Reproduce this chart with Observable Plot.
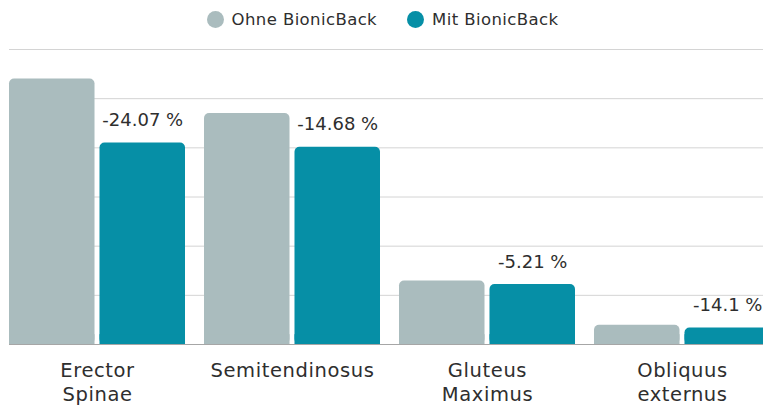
<!DOCTYPE html>
<html>
<head>
<meta charset="utf-8">
<script src="https://cdn.jsdelivr.net/npm/d3@7"></script>
<script src="https://cdn.jsdelivr.net/npm/@observablehq/plot@0.6"></script>
<style>
  html, body { margin: 0; padding: 0; background: #fff; overflow: hidden; width: 763px; height: 411px; }
  body { font-family: "DejaVu Sans", "Noto Sans", sans-serif; color: #2e2e2e; }
  #legend { height: 38px; display: flex; justify-content: center; align-items: center; gap: 30px; font-size: 16.5px; letter-spacing: 0.4px; padding-left: 2px; box-sizing: border-box; }
  .item { display: flex; align-items: center; gap: 8px; }
  .dot { width: 17px; height: 17px; border-radius: 50%; display: inline-block; }
  #chart g[aria-label="fx-axis tick label"] text { letter-spacing: 0.6px; }
</style>
</head>
<body>
<div id="legend"></div>
<div id="chart"></div>
<script>
const categories = ["Erector Spinae", "Semitendinosus", "Gluteus Maximus", "Obliquus externus"];
const categoryLabels = ["Erector\nSpinae", "Semitendinosus", "Gluteus\nMaximus", "Obliquus\nexternus"];
const series = ["Ohne BionicBack", "Mit BionicBack"];
const ohneValues = [5.40, 4.70, 1.29, 0.39];
const mitValues = [4.10, 4.01, 1.22, 0.335];
const changeLabels = ["-24.07 %", "-14.68 %", "-5.21 %", "-14.1 %"];
const yTicks = [0, 1, 2, 3, 4, 5, 6];
const colors = ["#aabcbe", "#068fa6"];

const data = categories.flatMap((c, i) => [
  {category: c, series: series[0], value: ohneValues[i]},
  {category: c, series: series[1], value: mitValues[i]}
]);
const labels = categories.map((c, i) => ({category: c, series: series[1], value: mitValues[i], label: changeLabels[i]}));
const labelMap = new Map(categories.map((c, i) => [c, categoryLabels[i]]));

const legend = document.getElementById("legend");
series.forEach((s, i) => {
  const item = document.createElement("div");
  item.className = "item";
  const dot = document.createElement("span");
  dot.className = "dot";
  dot.style.background = colors[i];
  const t = document.createElement("span");
  t.textContent = s;
  item.append(dot, t);
  legend.append(item);
});

const font = "'DejaVu Sans', 'Noto Sans', sans-serif";
const chart = Plot.plot({
  width: 763,
  height: 373,
  marginTop: 11,
  marginBottom: 67,
  marginLeft: 9,
  marginRight: -7,
  style: {fontFamily: font, overflow: "hidden", background: "white", color: "#2e2e2e"},
  fx: {domain: categories, paddingInner: 0.0974, paddingOuter: 0, round: false},
  x: {domain: series, paddingInner: 0.055, paddingOuter: 0, round: false, axis: null},
  y: {domain: [0, 6], axis: null},
  color: {domain: series, range: colors},
  marks: [
    Plot.ruleY(yTicks, {stroke: "#d4d4d4", strokeWidth: 1, insetRight: -19}),
    // rounded bars, with a square base overlay so only the top corners stay rounded
    Plot.barY(data, {fx: "category", x: "series", y: "value", fill: "series", rx: 5, ry: 5}),
    Plot.barY(data, {fx: "category", x: "series", y1: 0, y2: d => Math.min(d.value, 0.2), fill: "series"}),
    Plot.ruleY([0], {stroke: "#a6a6a6", strokeWidth: 1, insetRight: -19}),
    Plot.text(labels, {fx: "category", x: "series", y: "value", text: "label", lineAnchor: "bottom", dy: -17, fontSize: 18, fill: "#2e2e2e"}),
    Plot.axisFx({anchor: "bottom", tickSize: 0, tickPadding: 15, fontSize: 19.5, lineHeight: 1.25, label: null, tickFormat: d => labelMap.get(d)})
  ]
});
document.getElementById("chart").append(chart);
</script>
</body>
</html>
